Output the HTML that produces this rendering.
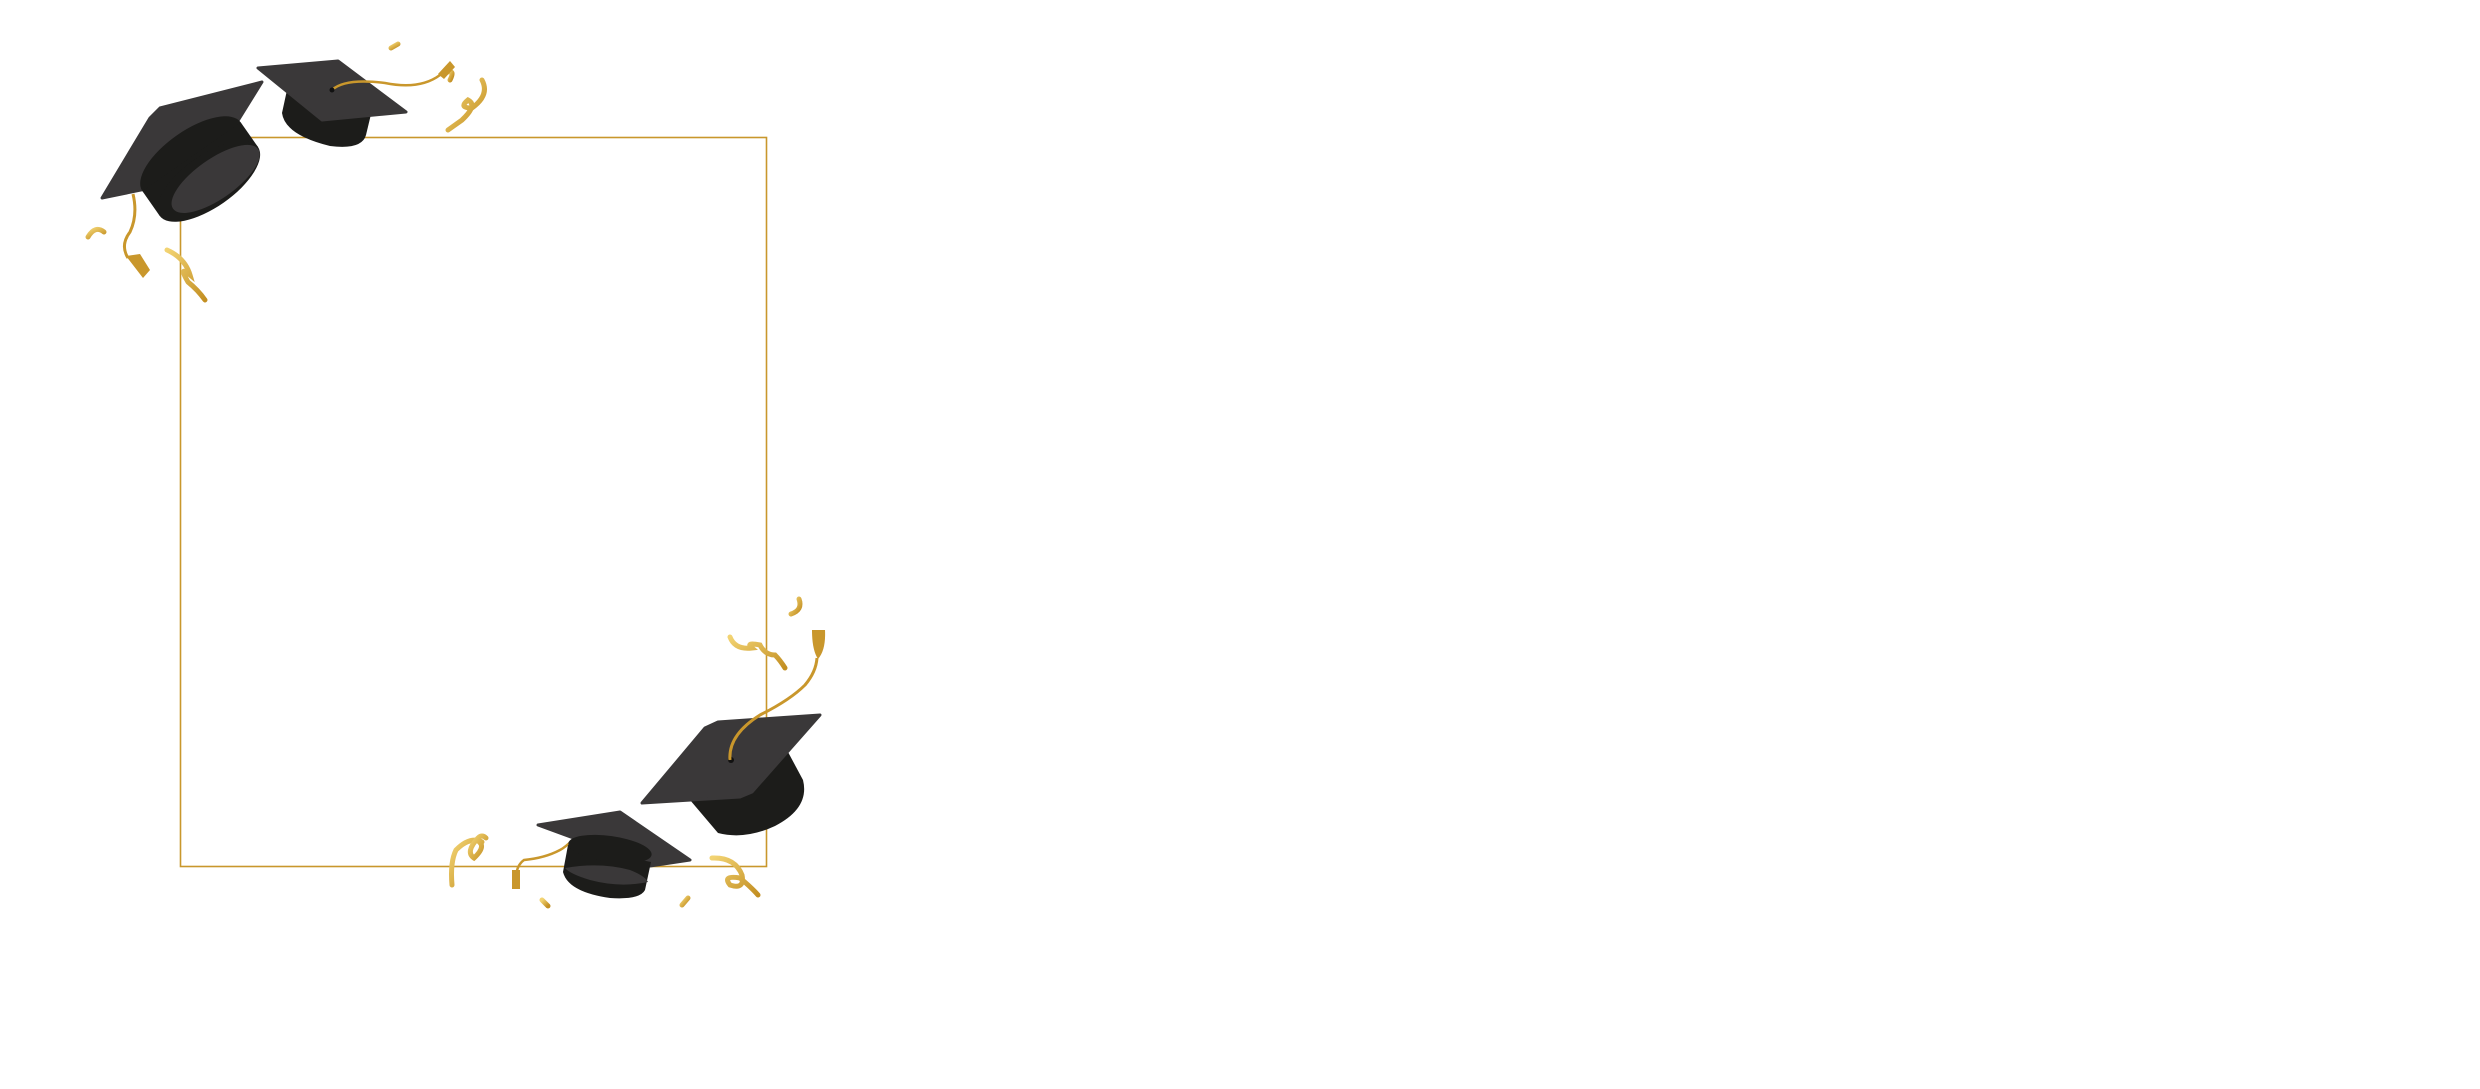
<!DOCTYPE html>
<html><head><meta charset="utf-8"><style>
html,body{margin:0;padding:0;background:#fff;width:2480px;height:1089px;overflow:hidden}
svg{display:block}
</style></head><body>
<svg width="2480" height="1089" viewBox="0 0 2480 1089" xmlns="http://www.w3.org/2000/svg">
<defs>
<linearGradient id="g" x1="0" y1="0" x2="1" y2="1"><stop offset="0" stop-color="#f2d372"/><stop offset="1" stop-color="#c38f22"/></linearGradient>
</defs>
<!-- frame -->
<rect x="180.5" y="137.5" width="586" height="729" fill="none" stroke="#c9972c" stroke-width="1.6"/>

<g fill="none" stroke="url(#g)" stroke-width="5" stroke-linecap="round">
<!-- confetti top-left -->
<path d="M88 237 Q95 225 104 232"/>
<path d="M167 250 Q185 258 190 275 Q178 265 188 282 Q198 290 205 300"/>
<!-- top confetti -->
<path d="M368 27 L368 35"/>
<path d="M391 48 L398 44"/>
<path d="M482 80 Q490 95 472 108 Q458 108 468 100 Q478 105 462 120 Q455 125 448 130" />
<path d="M448 72 Q455 70 450 80"/>
<!-- bottom-right confetti -->
<path d="M799 599 Q803 610 791 614"/>
<path d="M730 637 Q735 650 752 648 Q745 642 760 645 Q765 655 775 655 Q780 660 785 668"/>
<!-- bottom confetti -->
<path d="M482 842 Q470 836 456 850 Q450 862 452 885"/>
<path d="M476 840 Q488 845 474 858 Q465 852 478 838 Q482 834 486 838"/>
<path d="M542 900 L548 906"/>
<path d="M682 905 L688 898"/>
<path d="M712 858 Q735 857 742 875 Q745 890 730 885 Q722 875 740 878 Q752 888 758 895"/>
</g>

<!-- Cap A top-left -->
<polygon points="102,198 150,118 160,108 262,82 226,140 180,182" fill="#3a3839" stroke="#3a3839" stroke-width="3" stroke-linejoin="round"/>
<path d="M133 194 Q138 215 130 232 Q120 245 128 258" fill="none" stroke="#c9972c" stroke-width="3"/>
<path d="M126 256 L140 254 L150 270 L143 278 Z" fill="#c9972c"/>
<g transform="rotate(-35 205 162)">
<ellipse cx="197" cy="150" rx="60" ry="26" fill="#1c1c1a"/>
<rect x="137" y="150" width="120" height="30" fill="#1c1c1a"/>
<ellipse cx="197" cy="180" rx="60" ry="26" fill="#1c1c1a"/>
<ellipse cx="204" cy="182" rx="52" ry="20" fill="#3a3839"/>
</g>

<!-- Cap B top -->
<path d="M287 90 L282 113 Q285 135 330 146 Q362 150 366 135 L372 110 Z" fill="#1c1c1a"/>
<polygon points="258,68 338,61 406,112 322,120" fill="#3a3839" stroke="#3a3839" stroke-width="3" stroke-linejoin="round"/>
<path d="M332 90 Q345 78 385 83 Q420 90 440 75" fill="none" stroke="#c9972c" stroke-width="2.5"/>
<circle cx="332" cy="90" r="2.5" fill="#111"/>
<path d="M438 74 L450 61 L455 67 L444 79 Z" fill="#c9972c"/>

<!-- Cap C bottom-right -->
<path d="M690 800 L718 833 Q745 840 775 826 Q810 808 803 780 L788 752 Z" fill="#1c1c1a"/>
<polygon points="642,803 705,728 718,722 820,715 752,792 740,797" fill="#3a3839" stroke="#3a3839" stroke-width="3" stroke-linejoin="round"/>
<circle cx="731" cy="760" r="3" fill="#111"/>
<path d="M730 760 Q728 735 760 715 Q790 700 805 685 Q816 672 817 658" fill="none" stroke="#c9972c" stroke-width="3"/>
<path d="M812 630 L825 630 Q826 650 818 659 Q812 650 812 630 Z" fill="#c9972c"/>

<!-- Cap D bottom -->
<path d="M590 820 Q570 845 560 850 Q545 858 524 860 Q517 865 516 876" fill="none" stroke="#c9972c" stroke-width="2.5"/>
<path d="M512 870 L520 870 L520 889 L512 889 Z" fill="#c9972c"/>
<polygon points="538,825 620,812 690,860 650,866" fill="#3a3839" stroke="#3a3839" stroke-width="3" stroke-linejoin="round"/>
<path d="M568 845 L563 872 Q568 892 610 898 Q640 900 645 890 L651 862 Z" fill="#1c1c1a"/>
<ellipse cx="610" cy="849" rx="42" ry="13" fill="#1c1c1a" transform="rotate(8 610 849)"/>
<path d="M565 868 Q600 862 630 870 Q645 876 648 882 Q620 888 590 880 Q570 874 565 868 Z" fill="#3a3839"/>
</svg>
</body></html>
